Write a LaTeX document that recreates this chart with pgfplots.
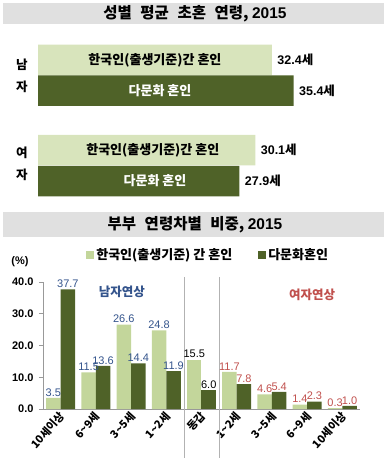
\documentclass[border=0pt]{standalone}
\usepackage{pgfplots}
\pgfplotsset{compat=1.18}
\usepackage{fontspec}
\setmainfont{Liberation Sans}
\newfontfamily\kr{Noto Sans CJK KR}
\definecolor{band}{RGB}{224,224,224}
\definecolor{lgtop}{RGB}{216,228,188}
\definecolor{lg}{RGB}{195,214,155}
\definecolor{dg}{RGB}{79,98,40}
\definecolor{lblue}{RGB}{52,84,140}
\definecolor{lred}{RGB}{192,80,77}
\begin{document}
\begin{tikzpicture}
\useasboundingbox (0pt,0pt) rectangle (384pt,472pt);
% title bands
\fill[band] (3pt,448pt) rectangle (384pt,469pt);
\node[font=\kr\bfseries\fontsize{15.5}{17}\selectfont] at (195pt,458.5pt) {성별\hspace{0.55em}평균\hspace{0.55em}초혼\hspace{0.55em}연령, {\rmfamily 2015}};
\fill[band] (3pt,235pt) rectangle (384pt,260pt);
\node[font=\kr\bfseries\fontsize{15.5}{17}\selectfont] at (195pt,247.5pt) {부부\hspace{0.55em}연령차별\hspace{0.55em}비중, {\rmfamily 2015}};
% side labels
\foreach \t/\yy in {남/407,자/385,여/319,자/297}
  \node[font=\kr\bfseries\fontsize{12.5}{14}\selectfont] at (22pt,\yy pt) {\t};
% top chart
\begin{axis}[at={(38pt,262pt)},anchor=south west,scale only axis,
  width=346pt,height=180pt,xmin=0,xmax=47.92,ymin=30,ymax=210,y dir=reverse,
  axis lines=none,xbar,bar width=30.5pt,clip=false,
  /pgf/number format/assume math mode=true,
  nodes near coords={\pgfmathprintnumber[fixed,fixed zerofill,precision=1]{\pgfplotspointmeta}{\kr 세}},
  every node near coord/.append style={font=\bfseries\fontsize{12.5}{14}\selectfont,anchor=west,xshift=2pt}]
\addplot[fill=lgtop,draw=none,bar shift=0pt] coordinates {(32.4,60) (30.1,150)};
\addplot[fill=dg,draw=none,bar shift=0pt] coordinates {(35.4,90.5) (27.9,181)};
\node[font=\kr\bfseries\fontsize{13}{15}\selectfont] at (axis cs:16.2,60) {한국인(출생기준)간 혼인};
\node[font=\kr\bfseries\fontsize{13}{15}\selectfont] at (axis cs:15.9,150) {한국인(출생기준)간 혼인};
\node[font=\kr\bfseries\fontsize{13}{15}\selectfont,white] at (axis cs:16.9,90.5) {다문화 혼인};
\node[font=\kr\bfseries\fontsize{13}{15}\selectfont,white] at (axis cs:16.2,181) {다문화 혼인};
\end{axis}
% bottom chart
\node[font=\bfseries\fontsize{11}{13}\selectfont] at (20pt,210pt) {(\%)};
\begin{axis}[at={(43pt,63pt)},anchor=south west,scale only axis,
  width=317pt,height=127pt,xmin=-0.5,xmax=8.5,ymin=0,ymax=40,
  axis x line*=bottom,axis y line*=left,
  axis line style={gray!80,line width=0.8pt},
  clip=false,
  ytick={0,10,20,30,40},
  /pgf/number format/assume math mode=true,
  yticklabel={\pgfmathprintnumber[fixed,fixed zerofill,precision=1]{\tick}},
  yticklabel style={font=\bfseries\fontsize{11}{13}\selectfont,xshift=-2pt},
  ytick style={gray!80,line width=0.8pt},
  tick align=outside,major tick length=4pt,
  xtick={0,...,8},
  xtick style={draw=none},
  minor xtick={-0.5,0.5,...,8.5},
  minor tick length=4pt,
  minor x tick style={gray!80,line width=0.8pt},
  xticklabels={10세이상,6\textasciitilde9세,3\textasciitilde5세,1\textasciitilde2세,동갑,1\textasciitilde2세,3\textasciitilde5세,6\textasciitilde9세,10세이상},
  xticklabel style={font=\kr\bfseries\fontsize{11}{13}\selectfont,rotate=48,anchor=east,xshift=4pt,yshift=-2pt},
  ybar,bar width=14.5pt,
  nodes near coords={\pgfmathprintnumber[fixed,fixed zerofill,precision=1]{\pgfplotspointmeta}},
  every node near coord/.append style={font=\fontsize{11}{13}\selectfont,inner sep=1.5pt},
  legend style={at={(0.136,1.283)},anchor=north west,draw=none,fill=none,
    legend columns=2,font=\kr\bfseries\fontsize{13}{15}\selectfont,
    /tikz/every even column/.append style={column sep=24pt},inner sep=0pt},
  legend image code/.code={\fill[#1] (0pt,-4pt) rectangle (8pt,4pt);},
  ]
\addplot[fill=lg,draw=none,bar shift=-7.25pt,every node near coord/.append style={lblue}] coordinates {(0,3.5) (1,11.5) (2,26.6) (3,24.8)};
\addlegendentry{한국인(출생기준) 간 혼인}
\addplot[fill=dg,draw=none,bar shift=7.25pt,every node near coord/.append style={lblue}] coordinates {(0,37.7) (1,13.6) (2,14.4) (3,11.9)};
\addlegendentry{다문화혼인}
\addplot[fill=lg,draw=none,bar shift=-7.25pt,forget plot,every node near coord/.append style={black}] coordinates {(4,15.5)};
\addplot[fill=dg,draw=none,bar shift=7.25pt,forget plot,every node near coord/.append style={black}] coordinates {(4,6.0)};
\addplot[fill=lg,draw=none,bar shift=-7.25pt,forget plot,every node near coord/.append style={lred}] coordinates {(5,11.7) (6,4.6) (7,1.4) (8,0.3)};
\addplot[fill=dg,draw=none,bar shift=7.25pt,forget plot,every node near coord/.append style={lred}] coordinates {(5,7.8) (6,5.4) (7,2.3) (8,1.0)};
\draw[gray!60,line width=0.6pt] (axis cs:3.5,41.6) -- (axis cs:3.5,-15.4);
\draw[gray!60,line width=0.6pt] (axis cs:4.5,41.6) -- (axis cs:4.5,-15.4);
\node[font=\kr\bfseries\fontsize{12.5}{14}\selectfont,lblue] at (axis cs:1.74,36.9) {남자연상};
\node[font=\kr\bfseries\fontsize{12.5}{14}\selectfont,lred] at (axis cs:7.14,35.9) {여자연상};
\end{axis}
\end{tikzpicture}
\end{document}
